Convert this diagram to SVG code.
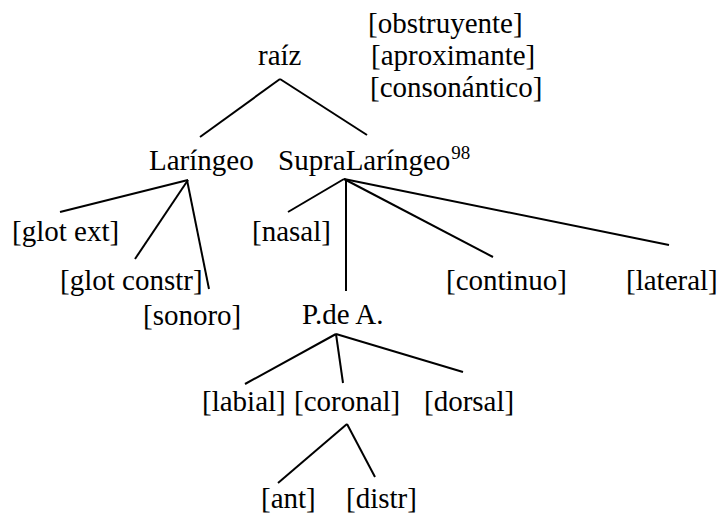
<svg xmlns="http://www.w3.org/2000/svg" width="720" height="521" viewBox="0 0 720 521">
<style>
line{stroke:#000;stroke-width:2;stroke-linecap:butt}
</style>
<rect width="720" height="521" fill="#fff"/>
<g id="connectors">
<line x1="280" y1="79" x2="200" y2="137"/>
<line x1="280" y1="79" x2="367" y2="135"/>
<line x1="188" y1="180" x2="60" y2="212"/>
<line x1="188" y1="180" x2="135" y2="259"/>
<line x1="187" y1="180" x2="209" y2="289"/>
<line x1="344" y1="179" x2="288" y2="212"/>
<line x1="346" y1="179" x2="346" y2="291"/>
<line x1="344" y1="179" x2="493" y2="257"/>
<line x1="344" y1="179" x2="669" y2="245"/>
<line x1="336" y1="334" x2="245" y2="384"/>
<line x1="336" y1="334" x2="343" y2="383"/>
<line x1="336" y1="334" x2="463" y2="372"/>
<line x1="347" y1="424" x2="278" y2="483"/>
<line x1="347" y1="424" x2="375" y2="477"/>
</g>
<g id="raiz"><text x="258" y="65" font-family="Liberation Serif" font-size="29">raíz</text></g>
<g id="features"><text x="368" y="33" font-family="Liberation Serif" font-size="29">[obstruyente]</text><text x="371" y="65" font-family="Liberation Serif" font-size="29">[aproximante]</text><text x="370" y="97" font-family="Liberation Serif" font-size="29">[consonántico]</text></g>
<g id="laringeo"><text x="149" y="170" font-family="Liberation Serif" font-size="29">Laríngeo</text></g>
<g id="supralaringeo"><text x="278" y="170" font-family="Liberation Serif" font-size="29">SupraLaríngeo<tspan font-size="19" dx="1" dy="-11">98</tspan></text></g>
<g id="glot-ext"><text x="12" y="241" font-family="Liberation Serif" font-size="29">[glot ext]</text></g>
<g id="glot-constr"><text x="60" y="290" font-family="Liberation Serif" font-size="29">[glot constr]</text></g>
<g id="sonoro"><text x="143" y="325" font-family="Liberation Serif" font-size="29">[sonoro]</text></g>
<g id="nasal"><text x="252" y="241" font-family="Liberation Serif" font-size="29">[nasal]</text></g>
<g id="continuo"><text x="446" y="290" font-family="Liberation Serif" font-size="29">[continuo]</text></g>
<g id="lateral"><text x="626" y="290" font-family="Liberation Serif" font-size="29">[lateral]</text></g>
<g id="pde-a"><text x="302" y="324" font-family="Liberation Serif" font-size="29">P.de A.</text></g>
<g id="labial"><text x="202" y="411" font-family="Liberation Serif" font-size="29">[labial]</text></g>
<g id="coronal"><text x="294" y="411" font-family="Liberation Serif" font-size="29">[coronal]</text></g>
<g id="dorsal"><text x="424" y="411" font-family="Liberation Serif" font-size="29">[dorsal]</text></g>
<g id="ant"><text x="261" y="508" font-family="Liberation Serif" font-size="29">[ant]</text></g>
<g id="distr"><text x="346" y="508" font-family="Liberation Serif" font-size="29">[distr]</text></g>
</svg>
